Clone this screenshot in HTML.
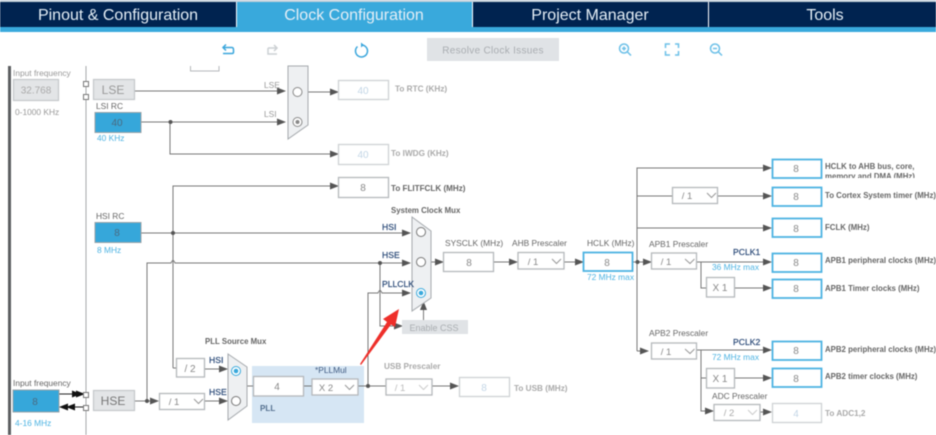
<!DOCTYPE html>
<html><head><meta charset="utf-8"><style>
html,body{margin:0;padding:0;background:#fff;width:936px;height:435px;overflow:hidden}
svg{display:block;filter:blur(.6px)}
text{font-family:"Liberation Sans",sans-serif}
.tab{font-size:16px;fill:#e4eef6;text-anchor:middle}
.l{font-size:8.4px;fill:#666}
.b{font-size:8.1px;fill:#666;font-weight:bold}
.r{font-size:7.85px;fill:#666;font-weight:bold}
.g{font-size:8.2px;fill:#aaa;font-weight:bold}
.q{font-size:8.4px;fill:#999}
.n{font-size:8.6px;fill:#2b4a78;stroke:#2b4a78;stroke-width:.2}
.c{font-size:8.4px;fill:#4db3e2}
.v{font-size:10px;fill:#888;text-anchor:middle}
.vd{font-size:10px;fill:#c3d6e6;text-anchor:middle}
.s{fill:#fff;stroke:#b5b8bb;stroke-width:1.3}
.sd{fill:#fff;stroke:#cfd2d4;stroke-width:1.3}
.o{fill:#fff;stroke:#4db3e2;stroke-width:1.8}
.bl{fill:#36a7da;stroke:#9aa3a8;stroke-width:1}
.gr{fill:#e3e5e7;stroke:#c4c7ca;stroke-width:1.2}
.w{fill:none;stroke:#777;stroke-width:1}
.m{fill:#eef0f2;stroke:#a5a9ad;stroke-width:1}
.chev{fill:none;stroke:#999;stroke-width:1}
.ic{fill:none;stroke:#6cc0e8;stroke-width:1.5}
</style></head><body>
<svg width="936" height="435" viewBox="0 0 936 435" xmlns="http://www.w3.org/2000/svg">
<defs>
<marker id="a" markerWidth="9" markerHeight="7" refX="8" refY="3.5" orient="auto" markerUnits="userSpaceOnUse"><path d="M0 0L9 3.5L0 7z" fill="#555"/></marker>
<marker id="k" markerWidth="9" markerHeight="7" refX="8" refY="3.5" orient="auto" markerUnits="userSpaceOnUse"><path d="M0 0L9 3.5L0 7z" fill="#111"/></marker>
<clipPath id="hc"><rect x="820" y="155" width="116" height="23"/></clipPath>
</defs>
<rect width="936" height="435" fill="#fff"/>

<!-- tabs -->
<rect x="0" y="0" width="936" height="2" fill="#c6d2dc"/>
<rect x="0" y="27" width="936" height="5" fill="#39a9dc"/>
<rect x="0" y="2" width="236" height="25" fill="#002350"/>
<rect x="237" y="2" width="235" height="30" fill="#39a9dc"/>
<rect x="473" y="2" width="235" height="25" fill="#002350"/>
<rect x="709" y="2" width="227" height="25" fill="#002350"/>
<text class="tab" x="118" y="20">Pinout &amp; Configuration</text>
<text class="tab" x="354" y="20">Clock Configuration</text>
<text class="tab" x="590" y="20">Project Manager</text>
<text class="tab" x="825" y="20">Tools</text>

<!-- toolbar -->
<path d="M223 47.5H232Q233.500 47.500 233.500 50V52Q233.500 53.500 232 53.500H223M226 44.500L223 47.500L226 50.500" fill="none" stroke="#3aa6dc" stroke-width="1.5"/>
<path d="M268 48H276M274 45L277 48L274 51M268 48V54H277" fill="none" stroke="#ccd0d3" stroke-width="1.5"/>
<path d="M357.500 46.500A6 6 0 1 0 361 45" fill="none" stroke="#3aa6dc" stroke-width="1.5"/>
<path d="M361 42.500L361 47.500L364 45z" fill="#3aa6dc"/>
<rect x="427" y="38" width="132" height="23" fill="#e0e3e6"/>
<text x="493" y="53.500" text-anchor="middle" font-size="10" letter-spacing=".3" fill="#a9adb1">Resolve Clock Issues</text>
<circle class="ic" cx="624" cy="48.500" r="4.500"/><path class="ic" d="M627.500 52L631 55.500M622 48.500H626M624 46.500V50.500"/>
<path class="ic" d="M665.500 48V44H670M675 44H678.500V48M678.500 51V55H675M670 55H665.500V51"/>
<circle class="ic" cx="715" cy="48.500" r="4.500"/><path class="ic" d="M718.500 52L722 55.500M713 48.500H717"/>

<!-- rails -->
<rect x="8" y="66" width="3" height="369" fill="#5d5f61"/>
<rect x="85.500" y="66" width="1" height="369" fill="#a5a8aa"/>
<path d="M190.500 66V71H219V66" fill="none" stroke="#b5b8bb"/>

<!-- PLL region -->
<rect x="252" y="366" width="112" height="57" fill="#d6e6f4"/>

<!-- wires -->
<g class="w">
<path d="M135 91H285" marker-end="url(#a)"/>
<path d="M308 92H338" marker-end="url(#a)"/>
<path d="M141 122H285" marker-end="url(#a)"/>
<path d="M170 122V154H338" marker-end="url(#a)"/>
<path d="M173 368V186H338" marker-end="url(#a)"/>
<path d="M173 368H176"/>
<path d="M141 233H410" marker-end="url(#a)"/>
<path d="M147 401V263H171Q173 258 175 263H410" marker-end="url(#a)"/>
<path d="M380 263V326H402" marker-end="url(#a)"/>
<path d="M368 386V293H378Q380 288 382 293H410" marker-end="url(#a)"/>
<path d="M423.500 320V302" marker-end="url(#a)"/>
<path d="M431 262H443" marker-end="url(#a)"/>
<path d="M494 262H517" marker-end="url(#a)"/>
<path d="M564 262H583" marker-end="url(#a)"/>
<path d="M633 262H651" marker-end="url(#a)"/>
<path d="M637 351V168H771" marker-end="url(#a)"/>
<path d="M637 196H672M718 196H771" marker-end="url(#a)"/>
<path d="M637 228H771" marker-end="url(#a)"/>
<path d="M697 262H771" marker-end="url(#a)"/>
<path d="M701 262V288H706"/>
<path d="M735 288H771" marker-end="url(#a)"/>
<path d="M637 351H648" marker-end="url(#a)"/>
<path d="M697 350H771" marker-end="url(#a)"/>
<path d="M701 350V411H713" marker-end="url(#a)"/>
<path d="M701 378H706"/>
<path d="M735 378H771" marker-end="url(#a)"/>
<path d="M760 412H771" marker-end="url(#a)"/>
<path d="M204 369H227" marker-end="url(#a)"/>
<path d="M205 401H227" marker-end="url(#a)"/>
<path d="M247 386H253M303 386H312M358 386H386"/>
<path d="M432 386H458" marker-end="url(#a)"/>
<path d="M135 401H158" marker-end="url(#a)"/>
</g>
<path d="M59 394H84" stroke="#222" marker-end="url(#k)"/><path d="M76 394H80" stroke="#222" marker-end="url(#k)"/>
<path d="M85 407H60" stroke="#222" marker-end="url(#k)"/><path d="M71 407H67" stroke="#222" marker-end="url(#k)"/>
<g fill="#555">
<circle cx="170.500" cy="122" r="2"/><circle cx="173" cy="233" r="2"/><circle cx="380" cy="263" r="2"/>
<circle cx="368" cy="386" r="2"/><circle cx="147" cy="401" r="2"/><circle cx="637.500" cy="262" r="2"/>
</g>

<!-- muxes -->
<path class="m" d="M288 66H308V125L288 139z"/>
<circle cx="297.500" cy="92" r="4.500" fill="#fff" stroke="#888"/>
<circle cx="297.500" cy="122" r="4.500" fill="#fff" stroke="#888"/><circle cx="297.500" cy="122" r="2" fill="#888"/>
<path class="m" d="M412 217L431 231V298L412 311z"/>
<circle cx="421" cy="232" r="4.500" fill="#fff" stroke="#777"/>
<circle cx="421" cy="262" r="4.500" fill="#fff" stroke="#777"/>
<circle cx="421" cy="293" r="4.500" fill="#fff" stroke="#39a9dc"/><circle cx="421" cy="293" r="2.300" fill="#39a9dc"/>
<path class="m" d="M228 354L247 367V406L228 420z"/>
<circle cx="236" cy="371" r="4.500" fill="#fff" stroke="#39a9dc"/><circle cx="236" cy="371" r="2.300" fill="#39a9dc"/>
<circle cx="236" cy="401" r="4.500" fill="#fff" stroke="#777"/>

<!-- small squares -->
<g fill="#fff" stroke="#777"><rect x="83.500" y="81.500" width="5" height="5"/><rect x="83.500" y="94.500" width="5" height="5"/><rect x="83.500" y="392.500" width="5" height="5"/><rect x="83.500" y="405.500" width="5" height="5"/></g>

<!-- left boxes -->
<text class="q" x="13" y="76">Input frequency</text>
<rect class="gr" x="13.500" y="79.500" width="45" height="21"/><text x="36" y="93.500" text-anchor="middle" font-size="10" fill="#aaa">32.768</text>
<text class="q" x="15" y="115">0-1000 KHz</text>
<rect class="gr" x="93.500" y="79.500" width="41" height="20"/><text x="113" y="94" text-anchor="middle" font-size="12" fill="#999">LSE</text>
<text class="l" x="96" y="109">LSI RC</text>
<rect class="bl" x="95" y="112.500" width="46" height="20"/><text class="v" x="117" y="126" style="fill:#4a6a80">40</text>
<text class="c" x="97" y="141">40 KHz</text>
<text class="l" x="96" y="219">HSI RC</text>
<rect class="bl" x="95" y="222.500" width="46" height="20"/><text class="v" x="117" y="236" style="fill:#4a6a80">8</text>
<text class="c" x="97" y="253">8 MHz</text>
<text class="l" x="13" y="386">Input frequency</text>
<rect class="bl" x="13" y="390" width="46" height="22"/><text class="v" x="35" y="405" style="fill:#4a6a80">8</text>
<text class="c" x="15" y="426">4-16 MHz</text>
<rect class="gr" x="93.500" y="390.500" width="41" height="20"/><text x="113" y="405" text-anchor="middle" font-size="12" fill="#777">HSE</text>

<text class="q" x="264" y="88">LSE</text><text class="q" x="264" y="117">LSI</text>

<!-- output top -->
<rect class="sd" x="338.500" y="80.500" width="50" height="19"/><text class="vd" x="363" y="94">40</text>
<text class="g" x="395" y="91.500">To RTC (KHz)</text>
<rect class="sd" x="338.500" y="144.500" width="50" height="20"/><text class="vd" x="363" y="158">40</text>
<text class="g" x="391" y="156">To IWDG (KHz)</text>
<rect class="s" x="338.500" y="177.500" width="50" height="20"/><text class="v" x="363" y="191">8</text>
<text class="b" x="391" y="191">To FLITFCLK (MHz)</text>
<text class="r" x="391" y="213">System Clock Mux</text>

<!-- sys labels -->
<text class="n" x="382" y="230">HSI</text>
<text class="n" x="382" y="258">HSE</text>
<text class="n" x="382" y="287">PLLCLK</text>
<rect x="402" y="320" width="66" height="14" fill="#e0e3e6"/><text x="434" y="331" text-anchor="middle" font-size="9" fill="#a9adb1">Enable CSS</text>

<text class="l" x="445" y="246">SYSCLK (MHz)</text>
<rect class="s" x="443.500" y="252.500" width="50" height="19"/><text class="v" x="469" y="266">8</text>
<text class="l" x="512" y="246">AHB Prescaler</text>
<rect class="s" x="518" y="252.500" width="46" height="16.500"/><text class="v" x="533" y="265" style="font-size:9.500px">/ 1</text><path class="chev" d="M552 259L556.500 263.500L561 259"/>
<text class="l" x="587" y="246">HCLK (MHz)</text>
<rect class="o" x="583.500" y="252.500" width="49" height="18.500"/><text class="v" x="607" y="266">8</text>
<text class="c" x="587" y="280">72 MHz max</text>

<!-- right -->
<rect class="o" x="772.500" y="159.500" width="49" height="18.500"/><text class="v" x="796" y="172">8</text>
<text class="r" x="825" y="169">HCLK to AHB bus, core,</text>
<text class="r" x="825" y="179" clip-path="url(#hc)">memory and DMA (MHz)</text>
<rect class="s" x="672.500" y="187.500" width="45" height="16"/><text class="v" x="687" y="199" style="font-size:9.500px">/ 1</text><path class="chev" d="M707 193L711.500 197.500L716 193"/>
<rect class="o" x="772.500" y="187.500" width="49" height="18.500"/><text class="v" x="796" y="200">8</text>
<text class="r" x="825" y="198">To Cortex System timer (MHz)</text>
<rect class="o" x="772.500" y="218.500" width="49" height="18.500"/><text class="v" x="796" y="232">8</text>
<text class="r" x="825" y="230">FCLK (MHz)</text>

<text class="l" x="649" y="247">APB1 Prescaler</text>
<rect class="s" x="651.500" y="253" width="45" height="16"/><text class="v" x="666" y="265" style="font-size:9.500px">/ 1</text><path class="chev" d="M685 259L690 263.500L694.500 259"/>
<text class="n" x="733" y="255">PCLK1</text>
<text class="c" x="712" y="270">36 MHz max</text>
<rect class="o" x="772.500" y="253.500" width="49" height="18.500"/><text class="v" x="796" y="266">8</text>
<text class="r" x="825" y="263">APB1 peripheral clocks (MHz)</text>
<rect class="s" x="706.500" y="277.500" width="28" height="19.500"/><text class="v" x="720" y="291">X 1</text>
<rect class="o" x="772.500" y="279.500" width="49" height="18.500"/><text class="v" x="796" y="292">8</text>
<text class="r" x="825" y="291">APB1 Timer clocks (MHz)</text>

<text class="l" x="649" y="336">APB2 Prescaler</text>
<rect class="s" x="651.500" y="343" width="45" height="16"/><text class="v" x="666" y="355" style="font-size:9.500px">/ 1</text><path class="chev" d="M685 349L690 353.500L694.500 349"/>
<text class="n" x="733" y="345">PCLK2</text>
<text class="c" x="712" y="360">72 MHz max</text>
<rect class="o" x="772.500" y="341.500" width="49" height="18.500"/><text class="v" x="796" y="354">8</text>
<text class="r" x="825" y="352">APB2 peripheral clocks (MHz)</text>
<rect class="s" x="706.500" y="368.500" width="28" height="19.500"/><text class="v" x="720" y="382">X 1</text>
<rect class="o" x="772.500" y="368.500" width="49" height="18.500"/><text class="v" x="796" y="382">8</text>
<text class="r" x="825" y="379">APB2 timer clocks (MHz)</text>
<text class="l" x="712" y="399">ADC Prescaler</text>
<rect class="s" x="714" y="404.500" width="46" height="16"/><text class="vd" x="729" y="416" style="font-size:9.500px;fill:#aaa">/ 2</text><path class="chev" d="M748 410L752.500 414.500L757 410" style="stroke:#ccc"/>
<rect class="sd" x="772.500" y="403.500" width="49" height="19"/><text class="vd" x="796" y="417">4</text>
<text class="g" x="825" y="416">To ADC1,2</text>

<!-- PLL -->
<text class="r" x="205" y="344">PLL Source Mux</text>
<rect class="s" x="176.500" y="358.500" width="28" height="18.500"/><text class="v" x="190" y="372">/ 2</text>
<text class="n" x="209" y="363">HSI</text><text class="n" x="209" y="395">HSE</text>
<rect class="s" x="159.500" y="393.500" width="45" height="16"/><text class="v" x="174" y="405" style="font-size:9.500px">/ 1</text><path class="chev" d="M194 399L198.500 403.500L203 399"/>
<rect class="s" x="253.500" y="376.500" width="50" height="19.500"/><text class="v" x="277" y="390">4</text>
<text x="315" y="373" font-size="8.400" fill="#3f5a80">*PLLMul</text>
<rect class="s" x="312" y="379" width="46" height="16"/><text class="v" x="326" y="391" style="font-size:9.500px">X 2</text><path class="chev" d="M345 385L349.500 389.500L354 385"/>
<text class="b" x="260" y="411" style="fill:#55708f">PLL</text>
<text class="g" x="384" y="369">USB Prescaler</text>
<rect class="s" x="386" y="379" width="46" height="16"/><text class="vd" x="400" y="391" style="font-size:9.500px;fill:#bbb">/ 1</text><path class="chev" d="M419 385L423.500 389.500L428 385" style="stroke:#ccc"/>
<rect class="sd" x="459.500" y="377.500" width="50" height="19"/><text class="vd" x="484" y="391">8</text>
<text class="g" x="514" y="391">To USB (MHz)</text>

<!-- red arrow -->
<path d="M360 364L387 322L383 319L399 309L395 327L391 324.500L361 365z" fill="#ee2f2a"/>
</svg>
</body></html>
